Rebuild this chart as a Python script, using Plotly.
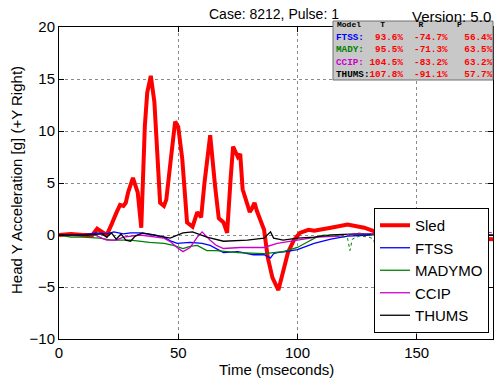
import plotly.graph_objects as go

# ---------------- data ----------------
sled_t = [0, 5, 10, 14, 16, 18, 20, 22, 23, 24, 25.6, 27, 28, 29, 31, 33, 34.5, 36, 37, 38.5, 40, 41,
          42.4, 44, 45, 47, 48.7, 50, 51.7, 53.7, 56, 58, 59.6, 61, 63.4, 65.5, 67, 69, 70.5, 72, 73,
          75, 76, 77, 79, 80, 81, 82, 83, 84.5, 86, 87.5, 89.5, 92, 94, 96, 98.5, 101, 104.6, 107,
          114, 121, 128, 134, 140, 150, 160, 170, 182]
sled_y = [0, 0.1, 0, 0, 0.6, 0.3, 0, 1.0, 1.7, 2.1, 2.9, 2.8, 3.1, 4.1, 5.5, 4.1, 0.7, 10.5, 13.7, 15.3, 12.8, 8.5,
          3.1, 2.8, 3.4, 7.5, 10.9, 10.4, 7.3, 1.2, 0.8, 2.2, 1.7, 5.0, 9.6, 4.6, 1.6, 1.2, 0.2, 5.5, 8.5,
          7.5, 7.8, 4.4, 2.7, 2.2, 2.6, 3.1, 2.3, 1.5, 0.5, -2.1, -4.1, -5.3, -3.4, -1.7, -0.5, 0.2, 0.5, 0.4,
          0.7, 1.0, 0.7, 0.2, 0.0, -0.1, -0.2, -0.3, -0.4]

ftss_t = [0, 10, 16, 20, 23, 27, 30, 34, 40, 44, 47, 49.6, 55, 60, 63.4, 66, 69, 75, 81.5, 86, 88.7, 90,
          91.5, 95, 100, 107, 114, 121, 131]
ftss_y = [0, 0, 0.2, 0.1, 0.3, 0.1, 0.2, 0.2, 0.0, -0.2, -0.6, -0.8, -0.7, -0.8, -1.0, -1.3, -1.7, -1.6, -1.9,
          -1.9, -2.2, -1.8, -1.7, -1.6, -1.4, -0.8, -0.4, -0.1, 0.0]

madymo_t = [0, 5, 10, 17, 22, 30, 38, 44, 48, 52, 55, 58, 62, 66, 75, 86, 94, 100, 104, 108, 111]
madymo_y = [0, -0.2, -0.2, -0.3, -0.5, -0.5, -0.7, -0.8, -1.0, -1.3, -1.1, -1.0, -1.5, -1.5, -1.7, -1.8, -1.6,
            -1.2, -0.7, -0.2, 0.0]

ccip_t = [0, 15, 18, 20, 24, 27, 34, 44, 47, 49.5, 52, 55, 58, 60, 63.4, 66, 69, 76, 86, 91.5, 100, 108, 118]
ccip_y = [0, 0, -0.3, -0.5, -0.5, -0.2, 0.0, -0.3, -0.7, -1.2, -1.6, -1.2, -0.2, 0.3, -0.5, -1.0, -1.3, -1.2,
          -1.2, -0.8, -0.5, -0.2, -0.1]

thums_t = [0, 12, 18, 20, 22, 24, 26, 28, 30, 32, 35, 40, 46.6, 52, 56, 62, 69, 79, 86, 88.7, 90, 94, 100,
           107, 114, 125, 137, 150, 182]
thums_y = [0, 0, 0.1, -0.2, 0.2, -0.4, 0.1, -0.5, -0.6, -0.1, 0.2, 0.0, -0.3, 0.2, 0.3, -0.2, -0.6, -0.5,
           -0.3, 0.3, -0.3, -0.5, -0.3, -0.2, 0.0, 0.1, 0.1, 0.05, 0.0]

# dotted tails seen after the solid curves end
ccip_tail_t = [118, 125, 130, 135, 140, 145, 150, 155, 160, 165, 170, 175, 182]
ccip_tail_y = [-0.1, 0.2, 0.1, 0.3, 0.3, 0.5, 0.3, 0.2, 0.3, 0.5, 0.3, 0.4, 0.2]
madymo_tail_t = [111, 118, 121, 122, 123, 126, 130, 132, 133, 134, 137]
madymo_tail_y = [0.0, -0.1, -0.3, -1.5, -0.4, -0.1, -0.2, -0.4, -1.7, -0.3, 0.0]

series_names = ["Sled", "FTSS", "MADYMO", "CCIP", "THUMS"]

table_models = ["FTSS:", "MADY:", "CCIP:", "THUMS:"]
table_T = ["93.6%", "95.5%", "104.5%", "107.8%"]
table_R = ["-74.7%", "-71.3%", "-83.2%", "-91.1%"]
table_P = ["56.4%", "63.5%", "63.2%", "57.7%"]
table_header = ["Model", "T", "R", "P"]

x_ticks = [0, 50, 100, 150]
y_ticks = [-10, -5, 0, 5, 10, 15, 20]

title_text = "Case: 8212, Pulse: 1"
version_text = "Version: 5.0"
x_title = "Time (mseconds)"
y_title = "Head Y Acceleration [g] (+Y Right)"

# ---------------- figure ----------------
W, H = 499, 383
ML, MR, MT, MB = 59, 6, 27, 44
PW, PH = W - ML - MR, H - MT - MB


def px_x(px):
    return (px - ML) / PW


def px_y(py):
    return (H - MB - py) / PH


RED, BLUE, GREEN, MAG, BLACK = "#ff0000", "#0000ff", "#008000", "#cc00cc", "#000000"

fig = go.Figure()
fig.add_trace(go.Scatter(x=sled_t, y=sled_y, mode="lines", name=series_names[0],
                         line=dict(color=RED, width=4)))
fig.add_trace(go.Scatter(x=ftss_t, y=ftss_y, mode="lines", name=series_names[1],
                         line=dict(color=BLUE, width=1.3)))
fig.add_trace(go.Scatter(x=madymo_t, y=madymo_y, mode="lines", name=series_names[2],
                         line=dict(color=GREEN, width=1.3)))
fig.add_trace(go.Scatter(x=ccip_t, y=ccip_y, mode="lines", name=series_names[3],
                         line=dict(color=MAG, width=1.3)))
fig.add_trace(go.Scatter(x=thums_t, y=thums_y, mode="lines", name=series_names[4],
                         line=dict(color=BLACK, width=1.3)))
fig.add_trace(go.Scatter(x=ccip_tail_t, y=ccip_tail_y, mode="lines", showlegend=False,
                         line=dict(color=MAG, width=1, dash="dot")))
fig.add_trace(go.Scatter(x=madymo_tail_t, y=madymo_tail_y, mode="lines", showlegend=False,
                         line=dict(color=GREEN, width=1, dash="dot")))

axis_common = dict(showline=True, linecolor="black", linewidth=1, mirror="ticks",
                   ticks="inside", ticklen=5, tickcolor="black",
                   showgrid=True, gridcolor="#8a8a8a", griddash="dot", gridwidth=1,
                   zeroline=False, tickfont=dict(family="Liberation Sans, Arial", size=15, color="black"))

fig.update_xaxes(range=[0, 182], tickvals=x_ticks, **axis_common)
fig.update_yaxes(range=[-10, 20], tickvals=y_ticks, **axis_common)

shapes = [dict(type="rect", xref="paper", yref="paper",
               x0=px_x(333), x1=px_x(493), y0=px_y(80), y1=px_y(21),
               fillcolor="#c8c8c8", line=dict(color="#707070", width=1), layer="above")]

annotations = []
mono = "Liberation Mono, Courier New, monospace"
hdr = f"{table_header[0]:<9}{table_header[1]:<8}{table_header[2]:<8}{table_header[3]}"
annotations.append(dict(text="<b>" + hdr.replace(" ", "\u00a0") + "</b>", xref="paper", yref="paper",
                        x=px_x(335), y=px_y(24.5), xanchor="left", yanchor="middle", showarrow=False,
                        font=dict(family=mono, size=8, color="black")))
row_colors = [BLUE, GREEN, MAG, BLACK]
row_py = [37, 49.5, 62, 74]
for m, t, r, p, c, py in zip(table_models, table_T, table_R, table_P, row_colors, row_py):
    vals = f"{t:>6}{'':2}{r:>6}{'':3}{p:>5}"
    lab = f"{m:<6}"
    txt = (f"<b><span style='color:{c}'>{lab.replace(' ', chr(160))}</span>"
           f"<span style='color:{RED}'>{vals.replace(' ', chr(160))}</span></b>")
    annotations.append(dict(text=txt, xref="paper", yref="paper", x=px_x(334), y=px_y(py),
                            xanchor="left", yanchor="middle", showarrow=False,
                            font=dict(family=mono, size=9.3)))

sans = "Liberation Sans, Arial"
annotations.append(dict(text=title_text, xref="paper", yref="paper", x=px_x(274), y=px_y(14),
                        xanchor="center", yanchor="middle", showarrow=False,
                        font=dict(family=sans, size=14, color="black")))
annotations.append(dict(text=version_text, xref="paper", yref="paper", x=px_x(493), y=px_y(17),
                        xanchor="right", yanchor="middle", showarrow=False,
                        font=dict(family=sans, size=15, color="black")))
annotations.append(dict(text=x_title, xref="paper", yref="paper", x=px_x(276), y=px_y(369),
                        xanchor="center", yanchor="middle", showarrow=False,
                        font=dict(family=sans, size=15, color="black")))
annotations.append(dict(text=y_title, xref="paper", yref="paper", x=px_x(16), y=px_y(180),
                        xanchor="center", yanchor="middle", showarrow=False, textangle=-90,
                        font=dict(family=sans, size=15, color="black")))

fig.update_layout(
    width=W, height=H,
    margin=dict(l=ML, r=MR, t=MT, b=MB, pad=0),
    paper_bgcolor="white", plot_bgcolor="white",
    shapes=shapes, annotations=annotations,
    legend=dict(x=px_x(489), y=px_y(333), xanchor="right", yanchor="bottom",
                bgcolor="white", bordercolor="black", borderwidth=1,
                font=dict(family=sans, size=15, color="black"),
                tracegroupgap=0, itemwidth=30),
    showlegend=True,
)

fig.write_html("out.html", config={"displayModeBar": False},
               post_script="document.body.style.margin='0';document.body.style.overflow='hidden';")
